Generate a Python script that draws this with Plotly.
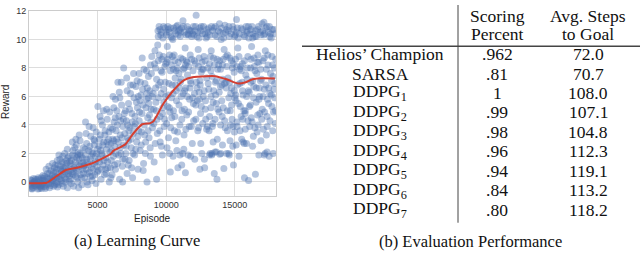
import plotly.graph_objects as go

# ---------------- data: learning curve (episode, reward) ----------------
pts_0_3k = [(100,-0.2),(200,0.1),(300,-0.4),(350,-0.1),(450,0.2),(500,-0.3),(600,0.0),(650,-0.5),(700,-0.2),
            (800,0.1),(850,-0.35),(900,0.3),(950,-0.1),(150,-0.3),(250,-0.05),(400,-0.25),(550,0.15),(750,-0.45),
            (1000,-0.15),(1050,0.25),(60,-0.1),(180,-0.45),(420,0.05),(620,-0.2),(880,-0.25),(980,0.1),(330,0.25),(720,0.2),
            (1100,-0.3),(1150,0.4),(1200,0.0),(1300,-0.2),(1350,0.6),(1400,0.2),(1500,-0.4),(1550,0.3),(1600,0.8),
            (1650,-0.1),(1700,0.5),(1750,0.1),(1800,-0.3),(1850,1.0),(1900,0.4),(1950,0.7),(2000,-0.1),(1250,0.9),(1450,1.1),
            (1180,-0.45),(1420,-0.1),(1620,0.15),(1880,-0.2),(1720,1.3),
            (2050,0.3),(2100,1.2),(2150,-0.2),(2200,0.6),(2250,1.6),(2300,0.9),(2350,0.1),(2400,1.4),(2450,0.5),
            (2500,-0.3),(2550,1.0),(2600,2.0),(2650,0.7),(2700,0.2),(2750,1.3),(2800,-0.4),(2850,0.8),(2900,1.8),
            (2950,0.4),(3000,1.1),(2120,0.0),(2480,0.9),(2720,1.5),(2880,0.6),(2320,0.4),(2580,0.3),(2180,1.9),
            (80,0.15),(230,-0.5),(380,0.0),(520,-0.15),(680,0.3),(780,-0.3),(920,-0.45),(1020,0.45),(1120,0.1),
            (1220,-0.35),(1320,0.3),(1480,0.6),(1580,-0.25),(1680,0.05),(1780,0.75),(1830,0.3),(1920,1.2),(1980,0.35),
            (2030,0.9),(2080,-0.35),(2230,0.25),(2280,1.1),(2380,0.75),(2420,-0.1),(2530,1.35),(2630,0.0),(2680,1.05),
            (2780,0.55),(2830,1.7),(2930,0.05),(2980,1.45),(2060,1.5),(2460,1.8),(2790,2.3)]

pts_3_6k = [(3050,0.2),(3100,1.5),(3150,0.6),(3200,2.2),(3250,-0.3),(3300,1.0),(3350,1.8),(3400,0.4),(3450,2.6),
            (3500,1.2),(3550,0.0),(3600,0.8),(3650,1.6),(3700,2.0),(3750,0.5),(3800,1.3),(3850,-0.2),(3900,0.9),
            (3950,2.4),(4000,1.1),(3120,0.9),(3380,1.4),(3620,-0.4),(3880,1.7),(3420,3.0),(3720,2.9),(3280,0.7),(3560,1.9),
            (4050,0.3),(4100,1.9),(4150,0.9),(4200,2.7),(4250,1.4),(4300,-0.2),(4350,2.2),(4400,0.7),(4450,1.6),
            (4500,3.2),(4550,1.0),(4600,0.1),(4650,2.0),(4700,1.3),(4750,2.6),(4800,0.5),(4850,1.8),(4900,3.5),
            (4950,1.1),(5000,2.3),(4120,4.2),(4380,3.9),(4620,0.4),(4880,-0.1),(4020,1.2),(4780,2.9),(4260,0.6),(4560,2.1),
            (5050,0.8),(5100,2.5),(5150,1.4),(5200,3.3),(5250,0.2),(5300,2.0),(5350,4.0),(5400,1.2),(5450,2.8),
            (5500,0.5),(5550,3.6),(5600,1.7),(5650,2.3),(5700,4.4),(5750,1.0),(5800,3.0),(5850,0.0),(5900,2.1),
            (5950,3.8),(6000,1.5),(5020,5.3),(5180,4.6),(5420,5.0),(5620,0.6),(5880,4.9),(5320,1.9),(5780,2.6),
            (3030,1.3),(3080,-0.1),(3180,1.9),(3230,0.5),(3330,2.4),(3430,0.9),(3480,1.7),(3530,0.3),(3580,2.1),
            (3680,1.1),(3780,1.9),(3830,0.3),(3930,1.4),(3980,0.6),(4080,2.3),(4180,1.6),(4230,0.0),(4330,1.2),
            (4430,2.5),(4480,0.4),(4530,1.8),(4680,0.9),(4730,3.0),(4830,1.4),(4930,2.0),(4980,0.7),(5080,1.6),
            (5130,3.0),(5230,2.2),(5280,0.9),(5380,2.6),(5480,1.5),(5530,3.3),(5580,0.9),(5680,2.8),(5730,1.4),
            (5830,3.5),(5930,1.0),(5980,2.7),(3160,2.8),(3660,3.3),(4160,3.4),(4680,3.8),(5260,4.3),(5660,5.1),(5960,0.3)]

pts_6_9k = [(6050,0.5),(6100,3.0),(6150,1.8),(6200,4.2),(6250,2.5),(6300,0.9),(6350,3.6),(6400,5.0),(6450,1.3),
            (6500,2.8),(6550,4.6),(6600,0.2),(6650,3.3),(6700,2.0),(6750,5.4),(6800,1.1),(6850,3.9),(6900,2.6),
            (6950,4.8),(7000,1.6),(6120,6.0),(6480,7.0),(6900,8.0),(6720,7.0),(6300,5.8),(6580,6.3),(6820,0.0),
            (7050,2.0),(7100,4.3),(7150,0.6),(7200,3.1),(7250,5.5),(7300,1.5),(7350,3.8),(7400,6.2),(7450,2.4),
            (7500,4.8),(7550,0.3),(7600,3.4),(7650,5.9),(7700,1.9),(7750,4.1),(7800,6.7),(7850,2.8),(7900,5.2),
            (7950,0.9),(8000,3.6),(7120,7.3),(7380,6.8),(7620,7.6),(7880,7.1),(7250,2.9),(7720,4.6),(7480,1.0),(7960,6.0),
            (8050,4.9),(8100,2.2),(8150,6.1),(8200,3.5),(8250,8.7),(8300,5.4),(8350,1.3),(8400,4.0),(8450,6.9),
            (8500,2.8),(8550,5.8),(8600,0.0),(8650,4.5),(8700,7.4),(8750,3.1),(8800,6.4),(8850,1.8),(8900,5.1),
            (8950,8.8),(9000,3.8),(8120,7.0),(8380,7.9),(8620,6.6),(8780,4.7),(8480,2.0),(8920,7.6),(8320,0.8),(8700,5.9),
            (6030,2.2),(6080,3.7),(6180,2.9),(6230,1.2),(6280,4.5),(6330,2.0),(6380,3.0),(6430,4.0),(6530,1.9),
            (6630,2.4),(6680,4.3),(6780,3.1),(6830,1.6),(6880,4.4),(6980,3.4),(7030,5.0),(7080,2.5),(7180,4.0),
            (7230,1.2),(7280,3.6),(7330,5.1),(7430,3.0),(7530,4.2),(7580,2.0),(7680,3.9),(7780,2.3),(7830,5.6),
            (7930,3.2),(8030,4.3),(8080,5.7),(8180,2.6),(8230,4.8),(8280,6.5),(8430,3.3),(8530,5.2),(8580,6.2),
            (8680,3.6),(8730,5.5),(8830,2.4),(8880,4.2),(8980,6.0),(6180,5.2),(6620,5.9),(7150,6.4),(7580,6.8),
            (8020,7.6),(8560,7.8),(8850,8.2)]

pts_9_12k = [(9050,6.2),(9100,4.1),(9150,8.3),(9200,2.7),(9250,5.6),(9300,7.2),(9350,3.4),(9400,10.6),(9450,6.8),
             (9500,8.9),(9550,4.6),(9600,10.3),(9650,2.5),(9700,7.7),(9750,5.2),(9800,10.9),(9850,3.9),(9900,8.1),
             (9950,6.0),(10000,10.5),(9120,1.4),(9380,9.6),(9580,7.0),(9720,1.9),(9880,4.4),(9480,10.9),(9280,5.0),
             (9820,6.5),(9680,8.6),(9180,9.2),(9300,0.2),
             (10050,8.4),(10100,5.3),(10150,10.7),(10200,6.9),(10250,2.0),(10300,7.8),(10350,10.2),(10400,4.5),
             (10450,8.8),(10500,6.2),(10550,10.8),(10600,3.6),(10650,7.3),(10700,10.4),(10750,5.7),(10800,8.0),
             (10850,1.0),(10900,10.6),(10950,6.6),(11000,4.0),(10080,9.5),(10280,4.9),(10480,10.0),(10620,8.5),
             (10780,2.2),(10920,7.6),(10380,5.9),(10680,6.8),(10160,3.1),(10830,11.0),(10520,7.9),(10240,8.9),
             (10300,0.7),(10500,1.8),
             (11050,10.5),(11100,7.2),(11150,5.0),(11200,8.6),(11250,10.9),(11300,3.3),(11350,6.4),(11400,8.2),
             (11450,10.3),(11500,4.7),(11550,7.5),(11600,1.9),(11650,10.7),(11700,5.8),(11750,8.9),(11800,6.9),
             (11850,10.2),(11900,2.7),(11950,7.8),(12000,4.3),(11080,6.0),(11220,11.3),(11380,9.4),(11520,8.4),
             (11680,3.9),(11820,10.6),(11980,5.5),(11130,1.2),(11420,6.6),(11760,7.1),(11580,10.4),(11320,8.0),
             (11000,1.9),(11200,2.0),(11400,0.65),
             (9420,10.2),(9540,10.7),(9660,10.5),(9760,10.1),(9920,10.8),(10020,10.3),(10120,10.9),(10220,10.5),
             (10320,10.8),(10420,10.1),(10620,10.6),(10740,10.9),(10860,10.3),(10980,10.7),(11020,10.2),(11120,10.8),
             (11320,10.5),(11520,10.9),(11620,10.3),(11720,10.6),(11920,10.4),(11980,10.9),
             (9220,8.0),(9420,8.5),(9620,7.8),(9780,8.8),(9960,8.3),(10120,8.6),(10380,8.2),(10580,8.9),(10720,7.8),
             (10880,8.4),(11060,8.7),(11240,7.9),(11460,8.5),(11640,8.1),(11860,8.6),
             (9080,5.1),(9230,6.6),(9330,4.4),(9430,5.9),(9530,3.6),(9630,6.2),(9730,4.8),(9830,5.6),(9930,7.0),
             (10030,4.1),(10130,6.1),(10230,5.2),(10330,3.8),(10430,6.8),(10530,5.0),(10630,4.6),(10730,6.4),
             (10830,3.5),(10930,5.4),(11030,7.0),(11130,4.4),(11230,6.2),(11330,5.1),(11430,3.7),(11530,6.0),
             (11630,4.9),(11730,6.6),(11830,3.9),(11930,5.9),
             (9560,2.8),(10060,2.4),(10700,2.9),(11280,2.3),(11780,1.8)]

pts_12_15k = [(12050,8.5),(12100,10.6),(12150,5.4),(12200,7.0),(12250,10.2),(12300,3.6),(12350,8.1),(12400,6.3),
              (12450,10.8),(12500,4.8),(12550,7.7),(12600,2.0),(12650,10.4),(12700,6.0),(12750,8.8),(12800,1.0),
              (12850,5.1),(12900,10.1),(12950,7.3),(13000,3.9),(12080,1.6),(12180,11.7),(12330,9.3),(12480,6.8),
              (12620,8.4),(12780,1.6),(12880,4.4),(12960,10.7),(12420,5.8),(12700,7.9),(12250,6.6),(12550,10.9),
              (12450,0.9),
              (13050,10.5),(13100,6.5),(13150,8.3),(13200,2.0),(13250,5.2),(13300,10.9),(13350,7.4),(13400,4.1),
              (13450,8.7),(13500,0.6),(13550,10.3),(13600,6.1),(13650,2.1),(13700,0.2),(13750,7.9),(13800,10.6),
              (13850,4.9),(13900,8.5),(13950,6.7),(14000,10.0),(13120,3.6),(13280,9.2),(13420,5.6),(13580,7.0),
              (13720,3.0),(13880,11.1),(13980,2.0),(13320,1.9),(13650,5.5),(13820,8.2),(13480,10.8),(13250,7.8),
              (13150,1.9),(13350,2.0),(13550,2.1),(13900,1.95),
              (14050,5.7),(14100,8.2),(14150,10.4),(14200,0.95),(14250,6.9),(14300,3.8),(14350,8.8),(14400,10.7),
              (14450,5.0),(14500,7.3),(14550,2.0),(14600,10.2),(14650,2.9),(14700,6.2),(14750,8.5),(14800,4.4),
              (14850,10.9),(14900,1.2),(14950,7.7),(15000,5.9),(14080,4.6),(14220,9.3),(14380,6.6),(14520,10.6),
              (14680,4.0),(14820,8.0),(14970,3.5),(14120,7.2),(14460,8.9),(14760,5.4),(14280,11.0),(14620,7.0),
              (14400,2.0),(14600,1.9),
              (12020,10.3),(12140,10.9),(12300,10.5),(12380,10.1),(12520,10.6),(12720,10.9),(12820,10.4),(12980,10.2),
              (13080,10.8),(13180,10.3),(13380,10.6),(13580,10.9),(13680,10.2),(13920,10.5),(14030,10.8),(14180,10.1),
              (14330,10.5),(14560,10.9),(14720,10.4),(14900,10.7),(14980,10.2),
              (12120,8.3),(12400,8.7),(12600,7.9),(12840,8.5),(13030,8.0),(13220,8.8),(13500,8.2),(13700,8.6),
              (13960,7.9),(14160,8.6),(14420,8.1),(14640,8.7),(14880,8.3),
              (12060,6.2),(12160,4.4),(12260,5.7),(12360,3.8),(12460,7.1),(12560,5.3),(12660,4.1),(12760,6.4),
              (12860,5.7),(12940,3.7),(13060,6.9),(13160,4.6),(13260,6.0),(13360,3.9),(13460,6.4),(13560,4.4),
              (13660,7.1),(13760,5.1),(13860,6.3),(13960,4.0),(14060,6.8),(14160,5.2),(14260,4.3),(14360,7.0),
              (14460,3.6),(14560,5.9),(14660,5.0),(14760,6.6),(14860,3.9),(14960,6.4),
              (12520,2.7),(13420,2.8),(14100,2.6),(14850,2.5)]

pts_15_18k = [(15050,8.6),(15100,10.5),(15150,4.2),(15200,6.8),(15250,10.1),(15300,1.8),(15350,7.9),(15400,5.3),
              (15450,10.8),(15500,3.0),(15550,8.3),(15600,6.1),(15650,10.3),(15700,0.3),(15750,4.8),(15800,7.5),
              (15850,2.7),(15900,10.6),(15950,8.8),(16000,0.1),(15080,5.7),(15220,9.4),(15380,3.6),(15520,7.0),
              (15680,2.7),(15820,10.9),(15980,6.4),(15120,11.4),(15420,8.1),(15760,5.0),(15580,4.4),(15900,7.2),
              (16050,6.3),(16100,10.4),(16150,8.0),(16200,4.5),(16250,10.9),(16300,7.1),(16350,3.2),(16400,8.7),
              (16450,10.2),(16500,0.55),(16550,5.6),(16600,7.6),(16650,10.7),(16700,4.0),(16750,8.4),(16800,6.0),
              (16850,10.5),(16900,2.9),(16950,7.2),(17000,5.1),(16080,3.9),(16220,9.5),(16380,6.7),(16520,10.6),
              (16680,8.9),(16820,4.8),(16980,11.1),(16130,5.4),(16470,7.8),(16780,6.6),(16300,10.1),(16620,3.5),
              (17050,8.5),(17100,10.3),(17150,6.5),(17200,2.0),(17250,10.8),(17300,7.9),(17350,4.6),(17400,8.9),
              (17450,10.5),(17500,1.8),(17550,6.2),(17600,7.6),(17650,10.1),(17700,5.3),(17750,8.2),(17800,2.0),
              (17850,10.7),(17900,6.9),(17950,4.1),(17980,8.6),(17080,3.7),(17220,9.2),(17380,5.8),(17520,10.9),
              (17680,7.1),(17820,4.9),(17120,11.2),(17470,6.6),(17780,7.4),(17300,3.3),(17600,10.4),(17900,5.9),
              (15020,10.3),(15180,10.8),(15330,10.4),(15560,10.7),(15720,10.2),(15860,10.5),(15990,10.9),(16020,10.1),
              (16160,10.7),(16340,10.4),(16560,10.2),(16720,10.9),(16900,10.3),(17020,10.6),(17180,10.4),(17340,10.9),
              (17540,10.2),(17720,10.7),(17940,10.4),
              (15140,8.1),(15300,8.8),(15470,7.8),(15700,8.5),(15920,8.0),(16180,8.6),(16420,8.1),(16640,8.4),
              (16880,7.9),(17140,8.7),(17420,8.2),(17700,8.8),(17880,8.0),
              (15060,6.1),(15160,3.9),(15260,5.5),(15360,6.9),(15460,4.6),(15560,6.4),(15660,5.0),(15760,3.7),
              (15860,6.0),(15960,4.3),(16060,5.3),(16160,7.0),(16260,4.2),(16360,5.9),(16460,3.8),(16560,6.6),
              (16660,4.7),(16760,5.8),(16860,7.1),(16960,4.4),(17060,6.0),(17160,4.9),(17260,6.8),(17360,3.9),
              (17460,5.5),(17560,4.3),(17660,6.1),(17760,3.6),(17860,6.5),(17960,5.0),
              (15100,2.6),(15600,2.8),(16300,2.5),(16750,1.9),(17150,1.9),(17350,2.1)]

# smoothed mean curve (red line)
curve_x = [0, 1000, 1300, 2000, 2660, 3500, 4560, 5940, 6160, 7030, 7600, 8250, 8840, 9060, 9800,
           10500, 11300, 11900, 12950, 13570, 14400, 15270, 15800, 16300, 17000, 17920]
curve_y = [-0.08, -0.08, -0.05, 0.4, 0.82, 1.0, 1.3, 1.96, 2.2, 2.65, 3.4, 4.05, 4.13, 4.25, 5.5,
           6.4, 7.15, 7.35, 7.42, 7.42, 7.2, 6.9, 7.0, 7.2, 7.27, 7.26]

x_ticks = [5000, 10000, 15000]
y_ticks = [0, 2, 4, 6, 8, 10, 12]

# ---------------- data: evaluation table ----------------
methods = ["Helios’ Champion", "SARSA", "DDPG<sub>1</sub>", "DDPG<sub>2</sub>", "DDPG<sub>3</sub>",
           "DDPG<sub>4</sub>", "DDPG<sub>5</sub>", "DDPG<sub>6</sub>", "DDPG<sub>7</sub>"]
scoring = [".962", ".81", "1", ".99", ".98", ".96", ".94", ".84", ".80"]
steps = ["72.0", "70.7", "108.0", "107.1", "104.8", "112.3", "119.1", "113.2", "118.2"]
headers = [("Scoring", "Percent"), ("Avg. Steps", "to Goal")]

# ---------------- figure ----------------
all_pts = pts_0_3k + pts_3_6k + pts_6_9k + pts_9_12k + pts_12_15k + pts_15_18k
episodes = [p[0] for p in all_pts]
rewards = [p[1] for p in all_pts]

W, H = 640, 260
def fx(px): return px / W
def fy(py): return 1 - py / H

fig = go.Figure()
fig.add_trace(go.Scatter(x=episodes, y=rewards, mode="markers",
                         marker=dict(size=7, color="#4c72b0", opacity=0.42, line=dict(width=0)),
                         hoverinfo="skip", showlegend=False))
fig.add_trace(go.Scatter(x=curve_x, y=curve_y, mode="lines",
                         line=dict(color="#d43f31", width=2, shape="spline", smoothing=0.6),
                         hoverinfo="skip", showlegend=False))

axis_font = dict(family="Liberation Sans, Arial, sans-serif", size=9, color="#333333")
fig.update_layout(
    width=W, height=H, margin=dict(l=0, r=0, t=0, b=0),
    paper_bgcolor="white", plot_bgcolor="white",
    xaxis=dict(domain=[fx(29), fx(276)], range=[0, 18000], tickvals=x_ticks,
               ticktext=[str(v) for v in x_ticks], showgrid=True, gridcolor="#dddddd", gridwidth=1,
               zeroline=False, showline=True, linecolor="#cccccc", linewidth=1, mirror=True,
               ticks="", tickfont=axis_font),
    yaxis=dict(domain=[fy(195), fy(6)], range=[-1, 12], tickvals=y_ticks,
               ticktext=[str(v) for v in y_ticks], showgrid=True, gridcolor="#dddddd", gridwidth=1,
               zeroline=False, showline=True, linecolor="#cccccc", linewidth=1, mirror=True,
               ticks="", tickfont=axis_font),
)

ann = []
sans10 = dict(family="Liberation Sans, Arial, sans-serif", size=10, color="#222222")
ann.append(dict(text="Episode", x=fx(152), y=fy(218), xref="paper", yref="paper",
                showarrow=False, xanchor="center", yanchor="middle", font=sans10))
ann.append(dict(text="Reward", x=fx(5), y=fy(99), xref="paper", yref="paper", textangle=-90,
                showarrow=False, xanchor="center", yanchor="middle", font=sans10))

serif_cap = dict(family="Liberation Serif, Times New Roman, serif", size=16.5, color="#111111")
ann.append(dict(text="(a) Learning Curve", x=fx(137), y=fy(240), xref="paper", yref="paper",
                showarrow=False, xanchor="center", yanchor="middle", font=serif_cap))
ann.append(dict(text="(b) Evaluation Performance", x=fx(470), y=fy(241), xref="paper", yref="paper",
                showarrow=False, xanchor="center", yanchor="middle", font=serif_cap))

serif_tab = dict(family="Liberation Serif, Times New Roman, serif", size=17.5, color="#111111")
col_x = [380, 497, 588]
for (l1, l2), cx in zip(headers, col_x[1:]):
    ann.append(dict(text=l1, x=fx(cx), y=fy(11), xref="paper", yref="paper", showarrow=False,
                    xanchor="center", yanchor="middle", font=serif_tab))
    ann.append(dict(text=l2, x=fx(cx), y=fy(30), xref="paper", yref="paper", showarrow=False,
                    xanchor="center", yanchor="middle", font=serif_tab))
for i, (m, s, st) in enumerate(zip(methods, scoring, steps)):
    ry = 50 + 19.85 * i
    for txt, cx in zip((m, s, st), col_x):
        ann.append(dict(text=txt, x=fx(cx), y=fy(ry), xref="paper", yref="paper", showarrow=False,
                        xanchor="center", yanchor="middle", font=serif_tab))

fig.update_layout(
    annotations=ann,
    shapes=[
        dict(type="line", xref="paper", yref="paper", x0=fx(458), x1=fx(458), y0=fy(0), y1=fy(222),
             line=dict(color="#444444", width=1)),
        dict(type="line", xref="paper", yref="paper", x0=fx(302), x1=1, y0=fy(42), y1=fy(42),
             line=dict(color="#444444", width=1.5)),
    ],
)

fig.write_html("out.html", config={"displayModeBar": False},
               post_script="document.body.style.margin='0';")
